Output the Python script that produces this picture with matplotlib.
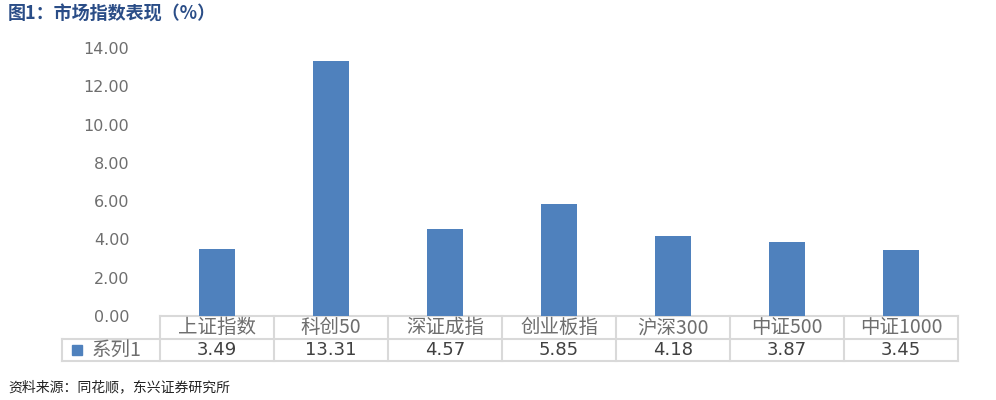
import matplotlib.pyplot as plt
import numpy as np

plt.rcParams['font.family'] = ['Noto Sans CJK SC', 'DejaVu Sans']

# data
categories = ['上证指数', '科创50', '深证成指', '创业板指', '沪深300', '中证500', '中证1000']
values = [3.49, 13.31, 4.57, 5.85, 4.18, 3.87, 3.45]
series_name = '系列1'
y_ticks = [0, 2, 4, 6, 8, 10, 12, 14]

BAR_COLOR = '#4f81bd'
GRID_COLOR = '#d9d9d9'
TEXT_GRAY = '#6e6e6e'

fig = plt.figure(figsize=(9.96, 4.0), dpi=100)
ax = fig.add_axes([160 / 996, 1 - 316 / 400, 798 / 996, 268 / 400])

x = np.arange(len(categories))
ax.bar(x, values, width=0.31, color=BAR_COLOR, zorder=3)

ax.set_xlim(-0.5, len(categories) - 0.5)
ax.set_ylim(0, 14)
ax.set_yticks(y_ticks)
ax.set_yticklabels(['%.2f' % t for t in y_ticks], family='DejaVu Sans',
                   fontsize=11.5, color=TEXT_GRAY)
ax.tick_params(axis='y', length=0, pad=22)
ax.set_xticks([])
for s in ax.spines.values():
    s.set_visible(False)

# data table under the plot (x in data units, y in axes units)
tr = ax.get_xaxis_transform()
px = 1 / 114.0          # one pixel in category units
row1 = -23 / 268.0      # border between header row and value row
row2 = -45 / 268.0      # bottom of table
left = -0.5 - 98 * px   # left edge of the legend cell
right = len(categories) - 0.5
lk = dict(color=GRID_COLOR, lw=1.5, transform=tr, clip_on=False, zorder=1)

ax.plot([-0.5, right], [0, 0], **lk)
ax.plot([left, right], [row1, row1], **lk)
ax.plot([left, right], [row2, row2], **lk)
ax.plot([left, left], [row1, row2], **lk)
for e in np.arange(len(categories) + 1) - 0.5:
    ax.plot([e, e], [0, row2], **lk)

for i, (c, v) in enumerate(zip(categories, values)):
    ax.text(i, row1 / 2, c, transform=tr, ha='center', va='center',
            fontsize=14, color=TEXT_GRAY)
    ax.text(i, (row1 + row2) / 2, '%.2f' % v, transform=tr, ha='center',
            va='center', fontsize=13, color='#404040', family='DejaVu Sans')

ax.plot([-0.5 - 83 * px], [(row1 + row2) / 2], marker='s', ms=7,
        color=BAR_COLOR, transform=tr, clip_on=False)
ax.text(-0.5 - 68 * px, (row1 + row2) / 2, series_name, transform=tr,
        ha='left', va='center', fontsize=14, color=TEXT_GRAY)

fig.text(8 / 996, 1 - 14 / 400, '图1：市场指数表现（%）', ha='left', va='center',
         fontsize=13, fontweight='bold', color='#2a4d87')
fig.text(8 / 996, 1 - 387 / 400, '资料来源：同花顺，东兴证券研究所', ha='left',
         va='center', fontsize=10, style='italic', color='#222222')

fig.savefig('out.png', dpi=100)
